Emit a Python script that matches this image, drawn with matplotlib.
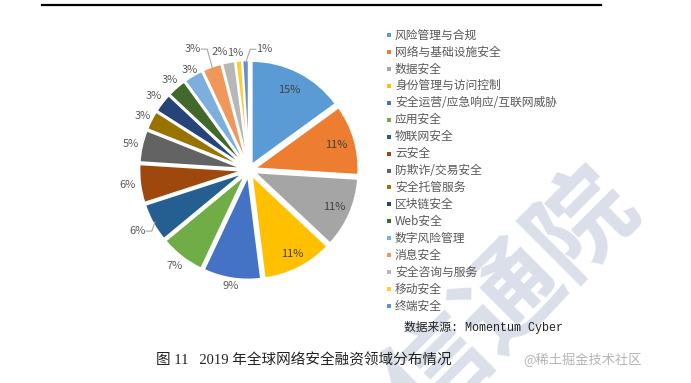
import numpy as np
import matplotlib
matplotlib.use("Agg")
import matplotlib.pyplot as plt
from matplotlib.patches import Rectangle
from matplotlib.lines import Line2D

plt.rcParams['font.family'] = ['Noto Sans CJK SC', 'DejaVu Sans']

categories = ["风险管理与合规", "网络与基础设施安全", "数据安全", "身份管理与访问控制",
              "安全运营/应急响应/互联网威胁", "应用安全", "物联网安全", "云安全",
              "防欺诈/交易安全", "安全托管服务", "区块链安全", "Web安全",
              "数字风险管理", "消息安全", "安全咨询与服务", "移动安全", "终端安全"]
values = [15, 11, 11, 11, 9, 7, 6, 6, 5, 3, 3, 3, 3, 3, 2, 1, 1]
colors = ["#5B9BD5", "#ED7D31", "#A5A5A5", "#FFC000", "#4472C4", "#70AD47",
          "#255E91", "#9E480E", "#636363", "#997300", "#264478", "#43682B",
          "#7CAFDD", "#F1975A", "#B7B7B7", "#FFCD33", "#698ED0"]

source_text = "数据来源: Momentum Cyber"
caption = "图 11   2019 年全球网络安全融资领域分布情况"

W, H = 691, 383
fig = plt.figure(figsize=(W / 100, H / 100), dpi=100)
fig.patch.set_facecolor("white")

# watermark
fig.text(512 / W, 1 - 298 / H, "信通院", fontsize=74, color="#dadfe9",
         rotation=45, ha="center", va="center", fontweight="bold", zorder=0)

# top rule
fig.add_artist(Line2D([42 / W, 601 / W], [1 - 4.5 / H, 1 - 4.5 / H],
                      color="black", lw=1.6, transform=fig.transFigure))

unit = 104.0
lim = 1.35
cx, cy = 249, 170
side = 2 * lim * unit
ax = fig.add_axes([(cx - side / 2) / W, (H - cy - side / 2) / H, side / W, side / H])

explode = [0.055] * len(values)
wedges, _ = ax.pie(values, colors=colors, startangle=90, counterclock=False,
                   explode=explode, radius=1.0,
                   wedgeprops=dict(edgecolor="white", linewidth=1.5))
ax.set_xlim(-lim, lim)
ax.set_ylim(-lim, lim)
ax.set_aspect("equal")
ax.axis("off")

total = float(sum(values))
label_r = [0.86, 0.87, 0.89, 0.91, 1.13, 1.17, 1.22, 1.18, 1.16, 1.15, 1.16,
           1.15, 1.12, 1.28, 1.17, 1.13, 1.17]
dtheta = [0] * 13 + [5, 3, 1.5, -9]
leader = {6, 13, 16}
half_w = 0.075
cum = 0.0
for i, v in enumerate(values):
    mid = 90 - 360 * (cum + v / 2) / total
    cum += v
    th = np.deg2rad(mid + dtheta[i])
    x, y = label_r[i] * np.cos(th), label_r[i] * np.sin(th)
    txt = f"{v}%"
    ax.text(x, y, txt, fontsize=8, color="#404040" if i < 4 else "#595959",
            ha="center", va="center")
    if i in leader:
        mth = np.deg2rad(mid)
        px, py = 1.03 * np.cos(mth), 1.03 * np.sin(mth)
        sx = x + half_w if px > x else x - half_w
        gap = 0.06 if px > x else -0.06
        ax.plot([sx, sx + gap, px], [y, y, py], color="#a6a6a6", lw=0.8,
                solid_capstyle="butt", zorder=3)

# legend (manual)
y0, dy = 35, 16.94
for i, (name, c) in enumerate(zip(categories, colors)):
    yy = y0 + i * dy
    fig.add_artist(Rectangle((387 / W, 1 - (yy + 2) / H), 4 / W, 4 / H,
                             facecolor=c, edgecolor="none", transform=fig.transFigure))
    fig.text(395 / W, 1 - yy / H, name, fontsize=8.5, color="#595959",
             ha="left", va="center")

fig.text(563 / W, 1 - 327 / H, source_text, fontsize=8.5, color="#222222",
         ha="right", va="center", family=["Liberation Mono", "Noto Sans CJK SC"])
fig.text(156 / W, 1 - 360 / H, caption, fontsize=10.5, color="#222222",
         ha="left", va="center", family=["Liberation Serif", "Noto Sans CJK SC"])
fig.text(642 / W, 1 - 360 / H, "@稀土掘金技术社区", fontsize=9.5, color="#b5b5b5",
         ha="right", va="center")

fig.savefig("out.png", dpi=100, facecolor="white")
